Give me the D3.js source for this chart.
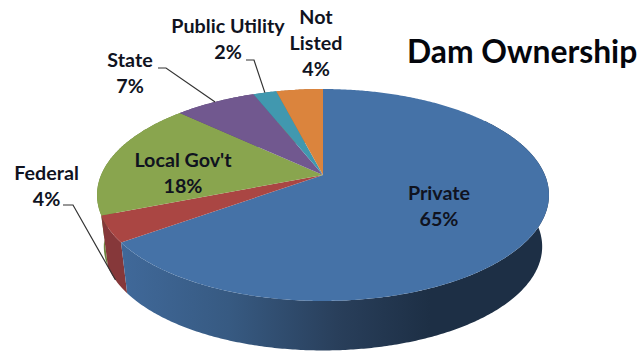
<!DOCTYPE html>
<html>
<head>
<meta charset="utf-8">
<script src="https://cdn.jsdelivr.net/npm/d3@7"></script>
<style>
  html, body { margin: 0; padding: 0; background: #fff; }
  svg { display: block; }
  text { font-family: Lato, "Open Sans", sans-serif; font-weight: 700; fill: #10131f; }
</style>
</head>
<body>
<svg id="chart" width="642" height="353"></svg>
<script>
const categories = ["Private", "Federal", "Local Gov't", "State", "Public Utility", "Not Listed"];
const shares = [65, 4, 18, 7, 2, 4];
const faceColors = ["#4572a7", "#aa4643", "#89a54e", "#71588f", "#4198af", "#db843d"];
const wallColors = ["url(#privateWall)", "#86383a", "#6d843e", "#5a4672", "#347a8c", "#af6a31"];
const titleText = "Dam Ownership";

// Label placement: centre x, first baseline, lines, optional leader start.
const labelLayout = [
  { x: 439, y: 200, lines: ["Private", "65%"] },
  { x: 46.5, y: 180, lines: ["Federal", "4%"], leader: [63, 205, 73, 205], onWall: true },
  { x: 183, y: 167, lines: ["Local Gov't", "18%"] },
  { x: 130, y: 67,  lines: ["State", "7%"], leader: [158, 68, 166, 68] },
  { x: 228, y: 33,  lines: ["Public Utility", "2%"], leader: [246, 60, 254, 60] },
  { x: 316, y: 24,  lines: ["Not", "Listed", "4%"] }
];

// Tilted disc: a unit circle seen in perspective, so its centre sits above
// the middle of the ellipse it projects to.
const cx = 323, apexY = 175, tilt = 0.1887, halfW = 221.9, halfH = 102.2;
const depth = 52, bottomShrink = 0.97, bottomSquash = 0.98;

function rim(angle) {
  const u = Math.sin(angle), v = -Math.cos(angle), s = 1 - tilt * v;
  return { x: halfW * u / s, y: halfH * v / s };
}
const topPoint = a => { const p = rim(a); return [cx + p.x, apexY + p.y]; };
const bottomPoint = a => {
  const p = rim(a);
  return [cx + p.x * bottomShrink, apexY + p.y * bottomSquash + depth];
};

const arcs = d3.pie().sort(null).value(d => d)(shares);
const line = d3.line();
const svg = d3.select("#chart");

const grad = svg.append("defs").append("linearGradient")
  .attr("id", "privateWall").attr("gradientUnits", "userSpaceOnUse")
  .attr("x1", 120).attr("x2", 430).attr("y1", 0).attr("y2", 0);
grad.selectAll("stop")
  .data([[0, "#40699a"], [0.35, "#375a82"], [0.7, "#293f5b"], [1, "#1d2f45"]])
  .join("stop")
  .attr("offset", d => d[0])
  .attr("stop-color", d => d[1]);

const sample = (a0, a1, step = 0.01) => {
  const n = Math.max(2, Math.ceil(Math.abs(a1 - a0) / step));
  return d3.range(n + 1).map(i => a0 + (a1 - a0) * i / n);
};

// Outer walls first, back to front, then the top faces over them.
svg.append("g").selectAll("path")
  .data(arcs.slice().reverse())
  .join("path")
  .attr("d", d => {
    const start = d.index === 0 ? Math.PI * 0.3 : d.startAngle;
    const angles = sample(start, d.endAngle);
    return line(angles.map(topPoint).concat(angles.slice().reverse().map(bottomPoint))) + "Z";
  })
  .attr("fill", d => wallColors[d.index]);

svg.append("g").selectAll("path")
  .data(arcs)
  .join("path")
  .attr("d", d => line([[cx, apexY]].concat(sample(d.startAngle, d.endAngle).map(topPoint))) + "Z")
  .attr("fill", d => faceColors[d.index]);

// Leader lines run from the label to the middle of the slice's rim.
svg.append("g").selectAll("path")
  .data(labelLayout.map((l, i) => ({ l, arc: arcs[i] })).filter(d => d.l.leader))
  .join("path")
  .attr("d", d => {
    const mid = (d.arc.startAngle + d.arc.endAngle) / 2;
    const end = d.l.onWall ? bottomPoint(mid) : topPoint(mid);
    const [a, b, c, e] = d.l.leader;
    return line([[a, b], [c, e], end]);
  })
  .attr("fill", "none")
  .attr("stroke", "#333")
  .attr("stroke-width", 1.2);

const labels = svg.append("g").selectAll("text")
  .data(labelLayout)
  .join("text")
  .attr("text-anchor", "middle")
  .attr("font-size", 19.7);
labels.selectAll("tspan")
  .data(d => d.lines.map((t, i) => ({ t, x: d.x, y: d.y + i * 26 })))
  .join("tspan")
  .attr("x", d => d.x)
  .attr("y", d => d.y)
  .text(d => d.t);

svg.append("text")
  .attr("x", 407).attr("y", 63)
  .attr("font-size", 31.8)
  .style("fill", "#04060c")
  .text(titleText);
</script>
</body>
</html>
